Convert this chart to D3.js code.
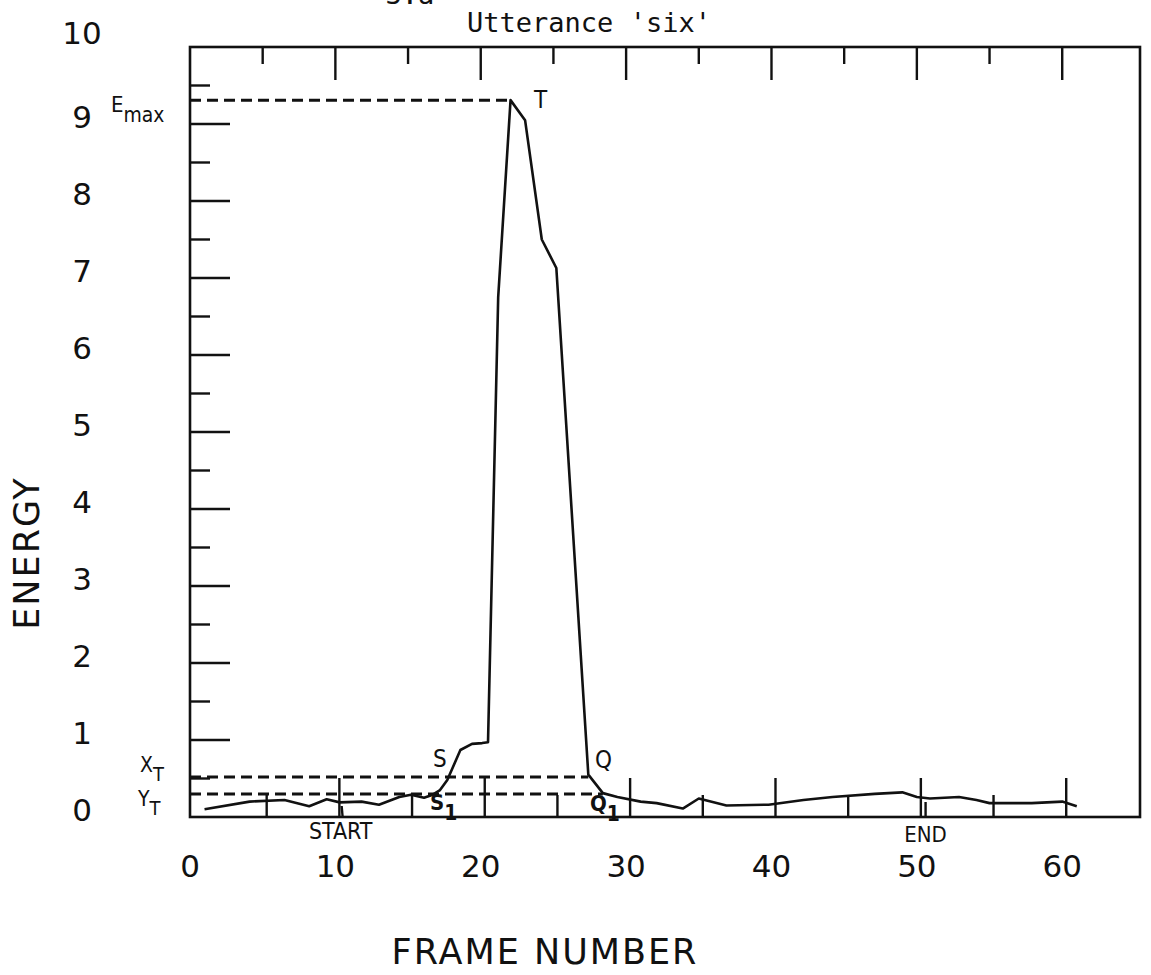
<!DOCTYPE html>
<html>
<head>
<meta charset="utf-8">
<script src="https://cdn.jsdelivr.net/npm/d3@7"></script>
<style>
  body { margin: 0; background: #fff; }
  svg { display: block; }
  .plot { font-family: "DejaVu Sans", sans-serif; fill: #111; }
  .mono { font-family: "DejaVu Sans Mono", monospace; }
  .cond { font-family: "DejaVu Sans Condensed", "DejaVu Sans", sans-serif; font-stretch: condensed; }
</style>
</head>
<body>
<svg id="chart" width="1151" height="975"></svg>
<script>
// energy contour of the utterance 'six'
var frames = [1.0, 4.1, 6.5, 8.2, 9.4, 10.3, 11.8, 13.0, 14.4, 15.2, 16.1, 16.7, 17.2, 17.7,
    18.3, 18.6, 19.4, 20.1, 20.5, 21.2, 22.05, 23.05, 24.2, 25.2, 27.4, 28.4, 29.4, 31.0,
    32.1, 33.9, 35.0, 36.9, 39.8, 42.2, 44.2, 47.1, 49.0, 50.0, 50.9, 52.9, 54.1, 55.0,
    57.9, 60.0, 61.0];
var energy = [0.10, 0.20, 0.22, 0.14, 0.23, 0.19, 0.20, 0.16, 0.26, 0.29, 0.25, 0.29, 0.35, 0.48,
    0.74, 0.87, 0.95, 0.96, 0.97, 6.75, 9.31, 9.05, 7.5, 7.13, 0.55, 0.31, 0.26, 0.20,
    0.18, 0.11, 0.24, 0.15, 0.16, 0.22, 0.26, 0.30, 0.32, 0.26, 0.24, 0.26, 0.22, 0.18,
    0.18, 0.20, 0.14];

var xTickLabels = [0, 10, 20, 30, 40, 50, 60];
var yTickLabels = [0, 1, 2, 3, 4, 5, 6, 7, 8, 9, 10];
var xTicks = [5, 10, 15, 20, 25, 30, 35, 40, 45, 50, 55, 60];
var yTicks = [0.5, 1, 1.5, 2, 2.5, 3, 3.5, 4, 4.5, 5, 5.5, 6, 6.5, 7, 7.5, 8, 8.5, 9, 9.5];

// thresholds and marked points
var eMax = 9.31, peakFrame = 22.05;
var xT = 0.52, qFrame = 27.4;
var yT = 0.30, q1Frame = 28.4;
var startFrame = 10.5, endFrame = 50.6;

var svg = d3.select("#chart");
var g = svg.append("g").attr("class", "plot");

var x = d3.scaleLinear().domain([0, 65.35]).range([190, 1140]);
var y = d3.scaleLinear().domain([0, 10]).range([817, 47]);

// frame
g.append("rect")
    .attr("x", x(0)).attr("y", y(10))
    .attr("width", x(65.35) - x(0)).attr("height", y(0) - y(10))
    .attr("fill", "none").attr("stroke", "#111").attr("stroke-width", 2.6);

// top ticks (pointing down) and bottom ticks (pointing up)
g.selectAll(".ttick").data(xTicks).enter().append("line")
    .attr("class", "ttick")
    .attr("x1", function(d) { return x(d); }).attr("x2", function(d) { return x(d); })
    .attr("y1", y(10))
    .attr("y2", function(d) { return y(10) + (d % 10 == 0 ? 33 : 17); })
    .attr("stroke", "#111").attr("stroke-width", 2.4);

g.selectAll(".btick").data(xTicks).enter().append("line")
    .attr("class", "btick")
    .attr("x1", function(d) { return x(d) + 4; }).attr("x2", function(d) { return x(d) + 4; })
    .attr("y1", y(0))
    .attr("y2", function(d) { return y(0) - (d % 10 == 0 ? 39 : 22); })
    .attr("stroke", "#111").attr("stroke-width", 2.4);

// left ticks (pointing right)
g.selectAll(".ltick").data(yTicks).enter().append("line")
    .attr("class", "ltick")
    .attr("x1", x(0)).attr("y1", function(d) { return y(d); })
    .attr("x2", function(d) { return x(0) + (d % 1 == 0 ? 40 : 20); })
    .attr("y2", function(d) { return y(d); })
    .attr("stroke", "#111").attr("stroke-width", 2.4);

// start / end markers
g.append("line").attr("x1", x(startFrame)).attr("x2", x(startFrame) - 1)
    .attr("y1", y(0)).attr("y2", y(0) - 11).attr("stroke", "#111").attr("stroke-width", 2.4);
g.append("line").attr("x1", x(endFrame)).attr("x2", x(endFrame))
    .attr("y1", y(0)).attr("y2", y(0) - 15).attr("stroke", "#111").attr("stroke-width", 2.4);

// dashed threshold lines
var dash = "11,6";
g.append("line").attr("x1", x(0)).attr("x2", x(peakFrame))
    .attr("y1", y(eMax)).attr("y2", y(eMax))
    .attr("stroke", "#111").attr("stroke-width", 3).attr("stroke-dasharray", dash);
g.append("line").attr("x1", x(0)).attr("x2", x(qFrame))
    .attr("y1", y(xT)).attr("y2", y(xT))
    .attr("stroke", "#111").attr("stroke-width", 3).attr("stroke-dasharray", dash);
g.append("line").attr("x1", x(0)).attr("x2", x(q1Frame))
    .attr("y1", y(yT)).attr("y2", y(yT))
    .attr("stroke", "#111").attr("stroke-width", 3).attr("stroke-dasharray", dash);

// energy curve
var line = d3.line()
    .x(function(d) { return x(d[0]); })
    .y(function(d) { return y(d[1]); });
g.append("path")
    .datum(d3.zip(frames, energy))
    .attr("d", line)
    .attr("fill", "none").attr("stroke", "#111").attr("stroke-width", 2.6)
    .attr("stroke-linejoin", "round");

// axis numbers
g.selectAll(".ylab").data(yTickLabels).enter().append("text")
    .attr("class", "ylab")
    .attr("x", 82)
    .attr("y", function(d) { return d == 10 ? y(d) - 14 : y(d) - 7; })
    .attr("dy", "0.35em").attr("text-anchor", "middle")
    .attr("font-size", 31)
    .text(function(d) { return d; });

g.selectAll(".xlab").data(xTickLabels).enter().append("text")
    .attr("class", "xlab")
    .attr("x", function(d) { return x(d); })
    .attr("y", 866)
    .attr("dy", "0.35em").attr("text-anchor", "middle")
    .attr("font-size", 31)
    .text(function(d) { return d; });

// axis titles
g.append("text")
    .attr("transform", "translate(27,553) rotate(-90)")
    .attr("text-anchor", "middle").attr("dy", "0.35em")
    .attr("font-size", 35).attr("letter-spacing", 2)
    .text("ENERGY");
g.append("text")
    .attr("x", 545).attr("y", 952)
    .attr("text-anchor", "middle").attr("dy", "0.35em")
    .attr("font-size", 35).attr("letter-spacing", 2)
    .text("FRAME NUMBER");

// title
g.append("text").attr("class", "mono")
    .attr("x", 589).attr("y", 32)
    .attr("text-anchor", "middle").attr("font-size", 27)
    .text("Utterance 'six'");
g.append("text").attr("class", "mono")
    .attr("x", 410).attr("y", 4)
    .attr("text-anchor", "middle").attr("font-size", 27)
    .text("3.a");

// annotations
function label(px, py, main, sub, size, bold) {
    var t = g.append("text").attr("class", "cond")
        .attr("x", px).attr("y", py)
        .attr("font-size", size)
        .attr("font-weight", bold ? "bold" : "normal");
    t.append("tspan").text(main);
    if (sub) t.append("tspan").attr("dy", size * 0.45).attr("font-size", size * 0.95).text(sub);
}
label(111, 112, "E", "max", 22, false);
label(140, 772, "X", "T", 21, false);
label(138, 806, "Y", "T", 21, false);
label(534, y(eMax) + 8, "T", null, 24, false);
label(433, y(xT) - 10, "S", null, 24, false);
label(430, y(yT) + 16, "S", "1", 22, true);
label(595, y(xT) - 9, "Q", null, 24, false);
label(590, y(yT) + 17, "Q", "1", 22, true);

g.append("text").attr("class", "cond")
    .attr("x", x(startFrame) - 2).attr("y", 831)
    .attr("dy", "0.35em").attr("text-anchor", "middle")
    .attr("font-size", 23).text("START");
g.append("text").attr("class", "cond")
    .attr("x", x(endFrame)).attr("y", 834)
    .attr("dy", "0.35em").attr("text-anchor", "middle")
    .attr("font-size", 22).text("END");
</script>
</body>
</html>
